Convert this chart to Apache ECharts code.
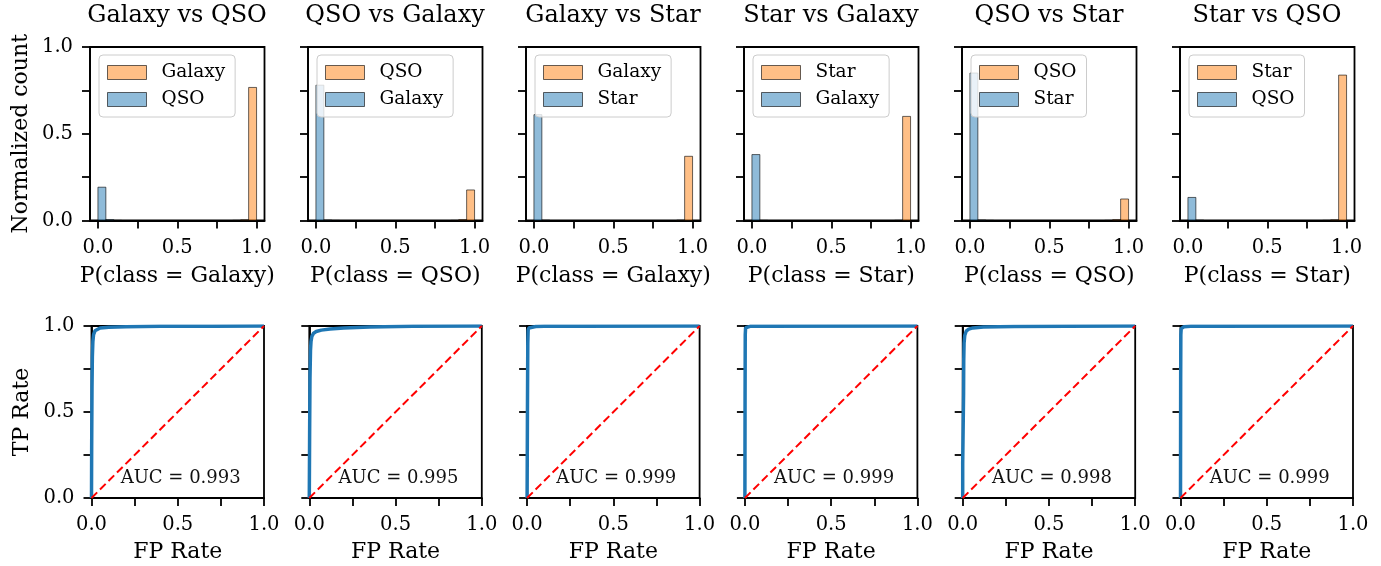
<!DOCTYPE html>
<html>
<head>
<meta charset="utf-8">
<script src="https://cdn.jsdelivr.net/npm/echarts@6/dist/echarts.min.js"></script>
<style>
html,body{margin:0;padding:0;background:#fff;}
#chart{width:1381px;height:566px;}
</style>
</head>
<body>
<div id="chart"></div>
<script>
// ---------------- data ----------------
const titles = ['Galaxy vs QSO', 'QSO vs Galaxy', 'Galaxy vs Star', 'Star vs Galaxy', 'QSO vs Star', 'Star vs QSO'];
const posClass = ['Galaxy', 'QSO', 'Galaxy', 'Star', 'QSO', 'Star'];
const negClass = ['QSO', 'Galaxy', 'Star', 'Galaxy', 'Star', 'QSO'];
const xLabels = ['P(class = Galaxy)', 'P(class = QSO)', 'P(class = Galaxy)', 'P(class = Star)', 'P(class = QSO)', 'P(class = Star)'];
const binEdges = [0, 0.05, 0.1, 0.15, 0.2, 0.25, 0.3, 0.35, 0.4, 0.45, 0.5, 0.55, 0.6, 0.65, 0.7, 0.75, 0.8, 0.85, 0.9, 0.95, 1.0];
// normalized counts, positive class (orange)
const histPos = [
  [0, 0, 0, 0, 0, 0, 0, 0, 0, 0, 0, 0, 0, 0, 0, 0, 0, 0.001, 0.004, 0.767],
  [0, 0, 0, 0, 0, 0, 0, 0, 0, 0, 0, 0, 0, 0, 0, 0, 0, 0.001, 0.005, 0.176],
  [0, 0, 0, 0, 0, 0, 0, 0, 0, 0, 0, 0, 0, 0, 0, 0, 0, 0, 0.002, 0.370],
  [0, 0, 0, 0, 0, 0, 0, 0, 0, 0, 0, 0, 0, 0, 0, 0, 0, 0, 0.001, 0.600],
  [0, 0, 0, 0, 0, 0, 0, 0, 0, 0, 0, 0, 0, 0, 0, 0, 0, 0.001, 0.005, 0.124],
  [0, 0, 0, 0, 0, 0, 0, 0, 0, 0, 0, 0, 0, 0, 0, 0, 0, 0.001, 0.004, 0.838]
];
// normalized counts, negative class (blue)
const histNeg = [
  [0.192, 0.005, 0.001, 0, 0, 0, 0, 0, 0, 0, 0, 0, 0, 0, 0, 0, 0, 0, 0, 0],
  [0.780, 0.003, 0.001, 0, 0, 0, 0, 0, 0, 0, 0, 0, 0, 0, 0, 0, 0, 0, 0, 0],
  [0.610, 0.002, 0, 0, 0, 0, 0, 0, 0, 0, 0, 0, 0, 0, 0, 0, 0, 0, 0, 0],
  [0.380, 0.001, 0, 0, 0, 0, 0, 0, 0, 0, 0, 0, 0, 0, 0, 0, 0, 0, 0, 0],
  [0.850, 0.003, 0.001, 0, 0, 0, 0, 0, 0, 0, 0, 0, 0, 0, 0, 0, 0, 0, 0, 0],
  [0.133, 0.002, 0, 0, 0, 0, 0, 0, 0, 0, 0, 0, 0, 0, 0, 0, 0, 0, 0, 0]
];
// ROC curves
const rocFpr = [
  [0, 0.001, 0.003, 0.005, 0.008, 0.012, 0.02, 0.03, 0.05, 0.1, 0.2, 0.4, 0.7, 1.0],
  [0, 0.002, 0.004, 0.007, 0.01, 0.015, 0.025, 0.04, 0.07, 0.12, 0.2, 0.35, 0.6, 1.0],
  [0, 0.002, 0.004, 0.006, 0.01, 0.02, 0.05, 0.1, 0.3, 1.0],
  [0, 0.001, 0.002, 0.004, 0.01, 0.03, 0.1, 1.0],
  [0, 0, 0.005, 0.005, 0.006, 0.008, 0.012, 0.02, 0.035, 0.06, 0.12, 0.3, 0.6, 1.0],
  [0, 0.001, 0.002, 0.004, 0.008, 0.02, 0.06, 0.2, 1.0]
];
const rocTpr = [
  [0, 0.30, 0.65, 0.82, 0.91, 0.95, 0.972, 0.982, 0.988, 0.993, 0.996, 0.998, 0.999, 1.0],
  [0, 0.40, 0.70, 0.86, 0.91, 0.94, 0.958, 0.968, 0.976, 0.983, 0.989, 0.994, 0.998, 1.0],
  [0, 0.50, 0.90, 0.975, 0.988, 0.994, 0.997, 0.998, 0.999, 1.0],
  [0, 0.60, 0.95, 0.99, 0.996, 0.998, 0.999, 1.0],
  [0, 0.20, 0.20, 0.60, 0.80, 0.90, 0.945, 0.97, 0.982, 0.989, 0.994, 0.997, 0.999, 1.0],
  [0, 0.70, 0.95, 0.985, 0.992, 0.996, 0.998, 0.999, 1.0]
];
const aucValues = ['0.993', '0.995', '0.999', '0.999', '0.998', '0.999'];
const aucPos = [0.517, 0.115];
const diagX = [0, 1];
const diagY = [0, 1];
const tickValues = [0, 0.25, 0.5, 0.75, 1.0];
const labelValues = [0, 0.5, 1.0];

// ---------------- styles ----------------
const FONT = "'DejaVu Serif', serif";
const ORANGE = 'rgba(255,127,14,0.5)';
const BLUE = 'rgba(31,119,180,0.5)';
const EDGE = 'rgba(0,0,0,0.6)';
const topLeft = i => 90 + 218 * i;
const botLeft = i => 91.5 + 217.8 * i;

const grids = [], xAxes = [], yAxes = [], series = [], legends = [], titleArr = [];

function axisCommon(showLabel) {
  return {
    type: 'value',
    axisLine: { show: true, onZero: false, lineStyle: { color: '#000', width: 1.8 } },
    axisTick: { show: true, customValues: tickValues, length: 8, lineStyle: { color: '#000', width: 1.8 } },
    axisLabel: {
      show: showLabel, customValues: labelValues, color: '#000',
      fontFamily: FONT, fontSize: 19.5, margin: 17,
      formatter: v => Number(v).toFixed(1)
    },
    splitLine: { show: false },
    nameTextStyle: { color: '#000', fontFamily: FONT, fontSize: 22 }
  };
}

for (let i = 0; i < 6; i++) {
  // ---- top row: histograms ----
  grids.push({ left: topLeft(i), top: 47, width: 174.5, height: 173.5, show: true, borderColor: '#000', borderWidth: 1.8, backgroundColor: 'transparent' });
  titleArr.push({
    text: titles[i], left: topLeft(i) + 87, top: 4, textAlign: 'center', padding: 0,
    textStyle: { fontFamily: FONT, fontSize: 24, fontWeight: 'normal', color: '#000' }
  });
  const xa = axisCommon(true);
  Object.assign(xa, { gridIndex: i, min: -0.05, max: 1.05, name: xLabels[i], nameLocation: 'middle', nameGap: 45 });
  xAxes.push(xa);
  const ya = axisCommon(i === 0);
  Object.assign(ya, { gridIndex: i, min: 0, max: 1, name: i === 0 ? 'Normalized count' : '', nameLocation: 'middle', nameGap: 58 });
  yAxes.push(ya);

  const mkHist = (counts, name, fill) => ({
    type: 'custom', name: name, xAxisIndex: i, yAxisIndex: i,
    encode: { x: [0, 1], y: 2 },
    data: binEdges.slice(0, -1).map((e, k) => [e, binEdges[k + 1], counts[k]]),
    renderItem: (params, api) => {
      const h = api.value(2);
      if (!h) return null;
      const p0 = api.coord([api.value(0), h]);
      const p1 = api.coord([api.value(1), 0]);
      return {
        type: 'rect',
        shape: { x: p0[0], y: p0[1], width: p1[0] - p0[0], height: p1[1] - p0[1] },
        style: { fill: fill, stroke: EDGE, lineWidth: 1 }
      };
    },
    itemStyle: { color: fill },
    z: 2
  });
  series.push(mkHist(histPos[i], posClass[i], ORANGE));
  series.push(mkHist(histNeg[i], negClass[i], BLUE));

  legends.push({
    left: topLeft(i) + 9, top: 55, orient: 'vertical', icon: 'rect',
    itemWidth: 39, itemHeight: 14, itemGap: 8,
    padding: [8, 10, 8, 8],
    backgroundColor: 'rgba(255,255,255,0.8)', borderColor: '#cccccc', borderWidth: 1, borderRadius: 4,
    selectedMode: false,
    textStyle: { fontFamily: FONT, fontSize: 18.5, color: '#000', padding: [0, 0, 0, 10] },
    data: [
      { name: posClass[i], itemStyle: { color: ORANGE, borderColor: EDGE, borderWidth: 1 } },
      { name: negClass[i], itemStyle: { color: BLUE, borderColor: EDGE, borderWidth: 1 } }
    ],
    z: 10
  });
}

for (let i = 0; i < 6; i++) {
  // ---- bottom row: ROC curves ----
  const gi = 6 + i;
  grids.push({ left: botLeft(i), top: 326, width: 172.5, height: 172, show: true, borderColor: '#000', borderWidth: 1.8, backgroundColor: 'transparent' });
  const xa = axisCommon(true);
  Object.assign(xa, { gridIndex: gi, min: 0, max: 1, name: 'FP Rate', nameLocation: 'middle', nameGap: 43 });
  xAxes.push(xa);
  const ya = axisCommon(i === 0);
  Object.assign(ya, { gridIndex: gi, min: 0, max: 1, name: i === 0 ? 'TP Rate' : '', nameLocation: 'middle', nameGap: 58 });
  yAxes.push(ya);

  series.push({
    type: 'line', name: 'ROC ' + titles[i], xAxisIndex: gi, yAxisIndex: gi,
    data: rocFpr[i].map((x, k) => [x, rocTpr[i][k]]),
    showSymbol: false, symbol: 'none', smooth: false,
    lineStyle: { color: '#1f77b4', width: 3.5 }, z: 2
  });
  series.push({
    type: 'line', name: 'diag ' + i, xAxisIndex: gi, yAxisIndex: gi,
    data: diagX.map((x, k) => [x, diagY[k]]),
    showSymbol: false, symbol: 'none',
    lineStyle: { color: '#ff0000', width: 2, type: [8, 4] }, z: 3
  });
  series.push({
    type: 'scatter', name: 'auc ' + i, xAxisIndex: gi, yAxisIndex: gi,
    data: [[aucPos[0], aucPos[1]]], symbolSize: 0, silent: true,
    itemStyle: { opacity: 1, color: 'transparent' },
    label: {
      show: true, position: 'inside', formatter: 'AUC = ' + aucValues[i],
      fontFamily: FONT, fontSize: 18, color: '#111', opacity: 1
    }, z: 4
  });
}

const chart = echarts.init(document.getElementById('chart'), null, { renderer: 'canvas' });
chart.setOption({
  animation: false,
  backgroundColor: '#fff',
  title: titleArr,
  legend: legends,
  grid: grids,
  xAxis: xAxes,
  yAxis: yAxes,
  series: series
});
</script>
</body>
</html>
